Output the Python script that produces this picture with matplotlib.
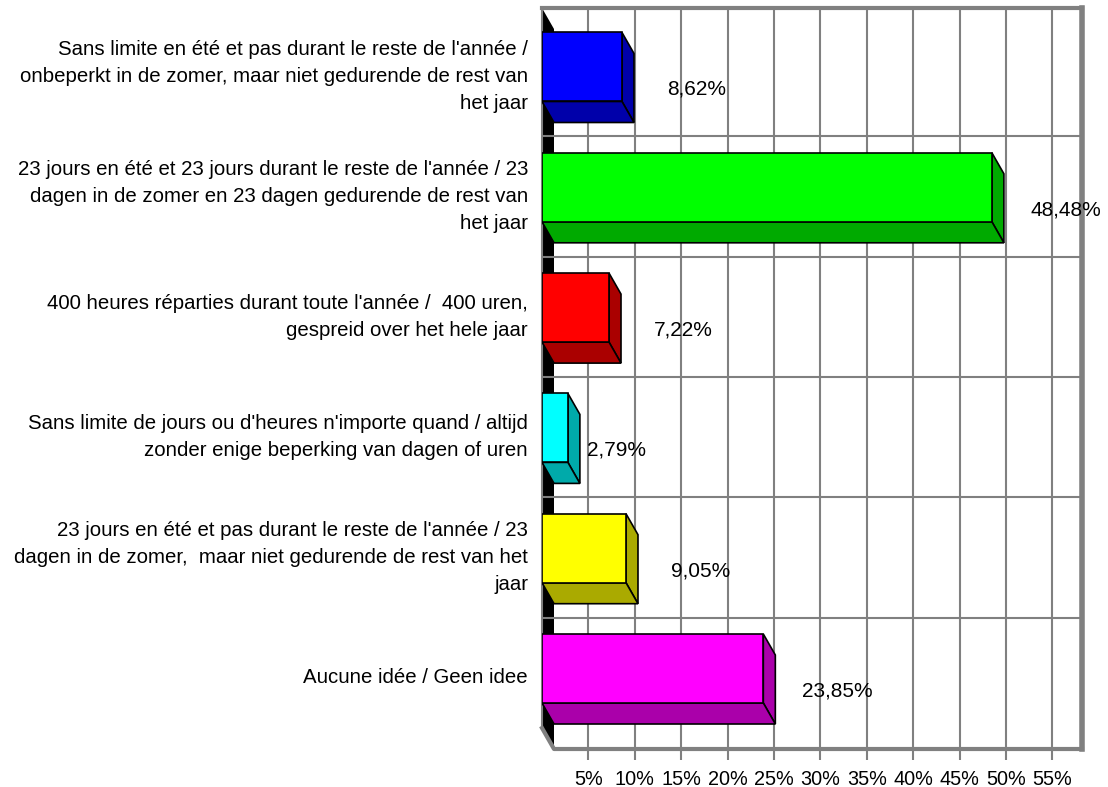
import matplotlib
matplotlib.use("Agg")
import matplotlib.pyplot as plt
from matplotlib.patches import Polygon

plt.rcParams['font.family'] = ['Liberation Sans', 'DejaVu Sans']

categories = [
    "Sans limite en été et pas durant le reste de l'année /\nonbeperkt in de zomer, maar niet gedurende de rest van\nhet jaar",
    "23 jours en été et 23 jours durant le reste de l'année / 23\ndagen in de zomer en 23 dagen gedurende de rest van\nhet jaar",
    "400 heures réparties durant toute l'année /  400 uren,\ngespreid over het hele jaar",
    "Sans limite de jours ou d'heures n'importe quand / altijd\nzonder enige beperking van dagen of uren",
    "23 jours en été et pas durant le reste de l'année / 23\ndagen in de zomer,  maar niet gedurende de rest van het\njaar",
    "Aucune idée / Geen idee",
]
values = [8.62, 48.48, 7.22, 2.79, 9.05, 23.85]
front_colors = ["#0000FF", "#00FF00", "#FF0000", "#00FFFF", "#FFFF00", "#FF00FF"]
side_colors = ["#0000AA", "#00AA00", "#AA0000", "#00AAAA", "#AAAA00", "#AA00AA"]
ticks = [5, 10, 15, 20, 25, 30, 35, 40, 45, 50, 55]
tick_labels = [f"{t}%" for t in ticks]

W, H = 1108, 787
fig = plt.figure(figsize=(W / 100, H / 100), dpi=100)
px_left, px_right, px_top, px_bot = 542, 1082, 8, 749
ax = fig.add_axes([px_left / W, (H - px_bot) / H, (px_right - px_left) / W, (px_bot - px_top) / H])

px_per_pct = 9.28
row_h = 120.3
row0_top = 16
xmax = (px_right - px_left) / px_per_pct
ytop = -0.5 - (row0_top - px_top) / row_h
ybot = -0.5 + (px_bot - row0_top) / row_h
ax.set_xlim(0, xmax)
ax.set_ylim(ybot, ytop)

# 3d depth offsets
dx = 12 / px_per_pct
dy = 21 / row_h
gray = "#808080"

for s in ax.spines.values():
    s.set_visible(False)
ax.set_yticks([])
ax.set_xticks(ticks)
ax.set_xticklabels(tick_labels, fontsize=14.3)
ax.tick_params(axis='x', length=8, width=1.5, color=gray, pad=7)
ax.xaxis.grid(True, color=gray, lw=1.5, zorder=0)
ax.set_axisbelow(True)

# left wall
wall = Polygon([(0, ytop), (dx, ytop + dy), (dx, ybot), (0, ybot - dy)],
               closed=True, facecolor="black", edgecolor="none", zorder=1)
ax.add_patch(wall)

# row separators
for k in range(1, len(values)):
    ax.plot([0, xmax], [k - 0.5, k - 0.5], color=gray, lw=1.5, zorder=1.5)

# frame
ax.plot([0, 0], [ytop, ybot - dy], color=gray, lw=1.5, clip_on=False, zorder=2)
ax.plot([0, dx, xmax], [ybot - dy, ybot, ybot], color=gray, lw=3, clip_on=False, zorder=2)
ax.plot([0, xmax], [ytop, ytop], color=gray, lw=3, clip_on=False, zorder=2)
ax.plot([xmax, xmax], [ytop, ybot], color=gray, lw=4, clip_on=False, zorder=2)

# bars
f_off0 = 16.5 / row_h
f_off1 = 85.5 / row_h
for i, (v, fc, sc) in enumerate(zip(values, front_colors, side_colors)):
    f0 = i - 0.5 + f_off0
    f1 = i - 0.5 + f_off1
    side = Polygon([(v, f0), (v + dx, f0 + dy), (v + dx, f1 + dy), (v, f1)],
                   closed=True, facecolor=sc, edgecolor="black", lw=1.2, zorder=3)
    bottom = Polygon([(0, f1), (v, f1), (v + dx, f1 + dy), (dx, f1 + dy)],
                     closed=True, facecolor=sc, edgecolor="black", lw=1.2, zorder=3)
    front = Polygon([(0, f0), (v, f0), (v, f1), (0, f1)],
                    closed=True, facecolor=fc, edgecolor="black", lw=1.2, zorder=4)
    ax.add_patch(side)
    ax.add_patch(bottom)
    ax.add_patch(front)

    lx = v + 8 if v > 5 else v + 5.2
    ax.text(lx, i + 0.11, f"{v:.2f}".replace(".", ",") + "%", ha="center", va="center",
            fontsize=15, zorder=5)
    ax.text(-14 / px_per_pct, i, categories[i], ha="right", va="center", fontsize=14.7,
            linespacing=1.53, clip_on=False)

fig.savefig("out.png", dpi=100)
